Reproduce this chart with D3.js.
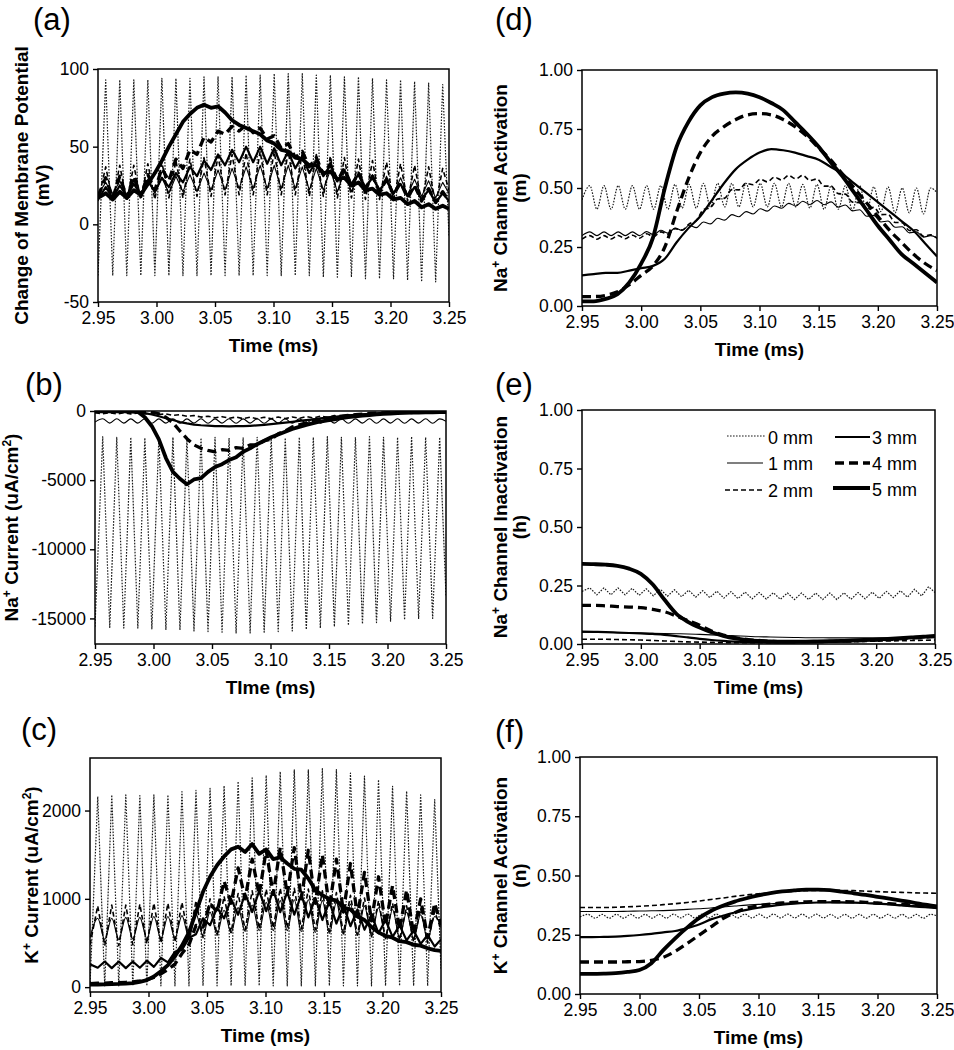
<!DOCTYPE html>
<html><head><meta charset="utf-8">
<script src="https://cdn.jsdelivr.net/npm/d3@7"></script>
<style>
body{margin:0;background:#fff}
svg{display:block}
text{font-family:"Liberation Sans",Arial,Helvetica,sans-serif;fill:#000}
</style>
</head><body>
<svg id="chart" width="954" height="1050"></svg>
<script>
// ---------- DATA ----------
const seriesNames = ["0 mm","1 mm","2 mm","3 mm","4 mm","5 mm"];
const xTicks = [2.95,3.00,3.05,3.10,3.15,3.20,3.25];
const yTicksA = [-50,0,50,100];
const yTicksB = [0,-5000,-10000,-15000];
const yTicksC = [0,1000,2000];
const yTicksGate = [0,0.25,0.5,0.75,1.0];

// time grid at half stimulus periods (ms)
const tOsc = [2.95,2.9566,2.9626,2.9686,2.9746,2.9806,2.9866,2.9926,2.9986,3.0046,
 3.0106,3.0166,3.0226,3.0286,3.0346,3.0406,3.0466,3.0526,3.0586,3.0646,
 3.0706,3.0766,3.0826,3.0886,3.0946,3.1006,3.1066,3.1126,3.1186,3.1246,
 3.1306,3.1366,3.1426,3.1486,3.1546,3.1606,3.1666,3.1726,3.1786,3.1846,
 3.1906,3.1966,3.2026,3.2086,3.2146,3.2206,3.2266,3.2326,3.2386,3.2446,3.25];
// coarse time grid (ms)
const tS = [2.95,2.96,2.97,2.98,2.99,3.00,3.01,3.02,3.03,3.04,
 3.05,3.06,3.07,3.08,3.09,3.10,3.11,3.12,3.13,3.14,
 3.15,3.16,3.17,3.18,3.19,3.20,3.21,3.22,3.23,3.24,3.25];

// (a) change of membrane potential (mV)
const a0 = [-33,93,-33,93,-33,93,-33,93,-33,94, -33,94,-33,94,-33,95,-33,95,-33,95,
 -33,96,-33,96,-33,97,-33,97,-33,97, -33,96,-34,96,-34,95,-34,95,-35,94,
 -35,93,-35,93,-36,92,-37,91,-37,90, -8];
const a1 = [19,27,19,28,19,28,20,29,20,30, 20,31,21,32,21,33,22,35,22,36,
 23,37,23,38,23,38,23,38,23,37, 22,36,22,35,21,34,21,33,20,32,
 20,31,19,30,19,29,18,28,17,27, 20];
const a2 = [15,37,15,38,15,38,16,39,16,40, 17,41,17,42,18,43,18,44,19,45,
 19,46,19,47,19,47,19,47,19,46, 18,45,18,44,17,43,17,42,16,41,
 16,40,15,39,15,38,14,37,13,36, 22];
const a3 = [16,24,17,25,18,26,19,28,21,30, 24,33,27,37,31,41,35,45,38,48,
 40,50,40,50,39,49,38,47,36,44, 33,41,31,38,28,35,26,32,24,30,
 22,28,20,26,18,24,16,22,14,20, 15];
const a4 = [18,30,17,31,17,31,18,32,22,36, 28,42,36,48,45,56,53,60,58,63,
 60,64,59,62,55,57,49,52,43,47, 37,43,32,39,28,36,25,33,23,31,
 21,29,19,27,17,25,15,23,14,21, 15];
const a5 = [17,20,16,21,17,22,19,26,33,41, 50,58,66,71,75,77,75,76,72,67,
 64,62,60,58,54,52,48,47,43,42, 38,38,33,34,29,30,25,27,22,23,
 19,20,16,17,13,15,11,13,10,12, 10];

// (b) Na+ current (uA/cm2)
const b0 = [-15600,-1850,-15650,-1900,-15700,-1900,-15700,-1950,-15750,-1900,
 -15800,-1900,-15850,-1950,-15900,-1950,-15950,-1900,-16000,-1950,
 -16050,-1950,-16050,-1900,-16000,-1900,-15950,-1950,-15900,-1900,
 -15800,-1900,-15700,-1850,-15600,-1900,-15500,-1900,-15400,-1850,
 -15300,-1900,-15200,-1900,-15100,-1850,-15000,-1900,-15000,-1900, -13400];
const b1 = [-800,-560,-880,-560,-880,-570,-880,-560,-890,-570, -880,-560,-890,-570,-880,-560,-890,-570,-880,-560,
 -890,-570,-880,-560,-890,-570,-880,-560,-890,-570, -880,-560,-890,-570,-880,-560,-890,-570,-880,-560,
 -890,-570,-880,-560,-890,-570,-880,-560,-890,-570, -750];
const b2 = [-120,-200,-130,-210,-130,-210,-140,-220,-160,-250, -210,-320,-270,-380,-330,-440,-380,-490,-410,-520,
 -440,-550,-450,-560,-450,-560,-440,-550,-430,-530, -400,-500,-370,-460,-330,-410,-280,-350,-230,-290,
 -180,-240,-150,-200,-120,-170,-100,-150,-90,-130, -100];
const b3 = [-50,-50,-60,-60,-70,-80,-100,-150,-250,-380, -520,-650,-800,-900,-980,-1030,-1060,-1090,-1100,-1110,
 -1100,-1090,-1070,-1040,-1000,-950,-900,-840,-780,-720, -660,-600,-540,-480,-420,-370,-320,-280,-240,-200,
 -170,-140,-120,-100,-85,-70,-60,-50,-45,-40, -40];
const b4 = [-20,-20,-20,-20,-25,-25,-30,-40,-80,-200, -450,-850,-1450,-2000,-2450,-2700,-2850,-2950,-2800,-2850,
 -2650,-2700,-2450,-2450,-2150,-2050,-1650,-1450,-1150,-1000, -850,-720,-600,-520,-440,-370,-310,-260,-220,-180,
 -150,-130,-110,-95,-80,-70,-60,-50,-45,-40, -40];
const b5 = [-20,-20,-20,-25,-25,-30,-60,-450,-1100,-2050, -3400,-4400,-4900,-5300,-4950,-4850,-4400,-4050,-3850,-3550,
 -3350,-2950,-2700,-2400,-2150,-1900,-1700,-1500,-1300,-1150, -1000,-880,-760,-680,-600,-520,-450,-390,-330,-290,
 -250,-210,-180,-160,-140,-120,-110,-100,-90,-80, -80];

// (c) K+ current (uA/cm2)
const c0 = [20,2158,15,2177,15,2177,15,2170,15,2177, 15,2177,15,2215,15,2230,15,2250,15,2280,
 15,2330,15,2370,15,2400,15,2440,15,2460, 15,2460,15,2475,15,2465,15,2425,15,2390,
 15,2350,15,2275,15,2220,15,2177,15,2125, 200];
const c1 = [560,780,540,780,540,790,545,790,550,800, 550,800,555,810,560,830,580,850,600,870,
 615,900,630,930,640,960,640,980,640,990, 630,990,620,980,610,960,600,940,590,920,
 580,900,570,880,560,850,550,820,540,800, 700];
const c2 = [480,920,470,930,470,930,480,940,490,950, 500,950,510,960,530,980,560,1000,590,1030,
 620,1060,650,1090,660,1110,670,1120,670,1120, 660,1110,650,1090,630,1070,610,1040,590,1010,
 570,980,550,950,530,920,510,890,500,860, 650];
const c3 = [260,220,290,215,290,215,290,220,300,230, 330,280,400,420,560,600,780,700,900,780,
 1000,820,1060,850,1090,860,1100,850,1080,820, 1050,790,1010,760,970,720,930,690,880,650,
 820,610,760,570,700,530,640,490,590,460, 540];
const c4 = [40,45,45,50,50,55,60,70,85,110, 150,200,260,380,480,700,680,950,850,1200,
 950,1350,1000,1450,1050,1550,1050,1580,1050,1580, 1000,1550,950,1500,900,1450,850,1400,800,1300,
 750,1250,700,1150,650,1100,600,1000,560,950, 700];
const c5 = [30,30,32,34,36,40,45,60,80,120, 180,250,350,470,620,850,1080,1250,1380,1480,
 1560,1590,1530,1620,1510,1560,1450,1470,1400,1340, 1330,1230,1100,1040,1000,980,900,880,800,760,
 680,620,580,560,520,510,480,470,440,420, 410];

// (d) Na+ channel activation m
const dm0 = [0.45,0.51,0.41,0.51,0.41,0.51,0.41,0.51,0.41,0.51, 0.41,0.51,0.41,0.515,0.415,0.515,0.415,0.52,0.42,0.52,
 0.42,0.52,0.42,0.52,0.42,0.52,0.42,0.52,0.42,0.52, 0.42,0.515,0.415,0.515,0.41,0.51,0.41,0.51,0.405,0.51,
 0.40,0.505,0.40,0.505,0.395,0.50,0.395,0.50,0.39,0.50, 0.48];
const dm1 = [0.298,0.314,0.298,0.314,0.298,0.314,0.298,0.314,0.298,0.315, 0.302,0.321,0.309,0.330,0.320,0.342,0.332,0.356,0.348,0.372,
 0.364,0.387,0.378,0.400,0.390,0.412,0.402,0.424,0.414,0.435, 0.424,0.444,0.430,0.447,0.429,0.441,0.419,0.428,0.403,0.408,
 0.380,0.384,0.356,0.360,0.334,0.336,0.310,0.314,0.292,0.298, 0.288];
const dm2 = [0.283,0.298,0.283,0.298,0.284,0.299,0.285,0.300,0.287,0.306, 0.294,0.314,0.304,0.328,0.322,0.348,0.362,0.408,0.417,0.453,
 0.457,0.493,0.492,0.520,0.514,0.537,0.526,0.546,0.534,0.553, 0.539,0.554,0.532,0.538,0.508,0.508,0.476,0.474,0.440,0.438,
 0.407,0.418,0.387,0.388,0.354,0.353,0.320,0.323,0.295,0.302, 0.287];
const dm3 = [0.13,0.135,0.14,0.14,0.15,0.16,0.17,0.20,0.27,0.33, 0.38,0.45,0.52,0.58,0.62,0.65,0.665,0.66,0.65,0.635,
 0.62,0.59,0.56,0.52,0.48,0.44,0.40,0.36,0.32,0.265, 0.21];
const dm4 = [0.04,0.04,0.045,0.06,0.09,0.13,0.17,0.25,0.40,0.54, 0.65,0.72,0.76,0.79,0.81,0.815,0.81,0.79,0.76,0.72,
 0.67,0.62,0.56,0.50,0.44,0.38,0.32,0.27,0.22,0.18, 0.15];
const dm5 = [0.02,0.02,0.03,0.05,0.10,0.18,0.29,0.50,0.675,0.78, 0.85,0.885,0.90,0.905,0.90,0.885,0.86,0.83,0.78,0.73,
 0.675,0.61,0.55,0.48,0.41,0.34,0.28,0.22,0.18,0.14, 0.10];

// (e) Na+ channel inactivation h
const e0 = [0.225,0.24,0.21,0.24,0.21,0.24,0.21,0.238,0.208,0.236, 0.206,0.234,0.204,0.232,0.202,0.23,0.2,0.228,0.198,0.226,
 0.196,0.224,0.194,0.222,0.193,0.22,0.192,0.219,0.191,0.218, 0.19,0.218,0.19,0.218,0.19,0.218,0.19,0.219,0.191,0.22,
 0.193,0.222,0.195,0.225,0.198,0.228,0.2,0.234,0.205,0.245, 0.22];
const e1 = [0.05,0.05,0.05,0.049,0.048,0.047,0.046,0.045,0.044,0.043, 0.041,0.039,0.037,0.035,0.033,0.031,0.03,0.029,0.028,0.027,
 0.027,0.026,0.026,0.026,0.026,0.027,0.027,0.028,0.029,0.03, 0.031];
const e2 = [0.02,0.02,0.02,0.019,0.018,0.017,0.015,0.013,0.011,0.009, 0.008,0.007,0.006,0.006,0.006,0.006,0.006,0.007,0.007,0.008,
 0.008,0.009,0.01,0.01,0.011,0.012,0.013,0.014,0.015,0.016, 0.017];
const e3 = [0.053,0.052,0.051,0.049,0.047,0.045,0.043,0.039,0.034,0.028, 0.022,0.017,0.013,0.01,0.008,0.007,0.006,0.006,0.006,0.007,
 0.008,0.009,0.011,0.013,0.015,0.018,0.02,0.023,0.026,0.029, 0.032];
const e4 = [0.165,0.165,0.163,0.16,0.158,0.155,0.148,0.138,0.12,0.10, 0.08,0.055,0.038,0.027,0.02,0.015,0.012,0.01,0.01,0.01,
 0.01,0.011,0.012,0.013,0.015,0.017,0.019,0.022,0.025,0.028, 0.032];
const e5 = [0.342,0.341,0.339,0.334,0.322,0.30,0.255,0.19,0.13,0.095, 0.07,0.05,0.035,0.024,0.017,0.013,0.011,0.01,0.01,0.01,
 0.011,0.012,0.013,0.015,0.017,0.019,0.022,0.025,0.028,0.031, 0.035];

// (f) K+ channel activation n
const f0 = [0.325,0.336,0.32,0.336,0.32,0.336,0.32,0.336,0.32,0.336, 0.32,0.336,0.32,0.337,0.321,0.337,0.321,0.337,0.321,0.337,
 0.321,0.337,0.321,0.337,0.321,0.337,0.321,0.337,0.321,0.337, 0.321,0.337,0.321,0.337,0.321,0.336,0.32,0.336,0.32,0.336,
 0.32,0.336,0.32,0.336,0.32,0.336,0.32,0.336,0.32,0.336, 0.33];
const f1 = [0.348,0.348,0.348,0.348,0.349,0.35,0.351,0.352,0.354,0.357, 0.36,0.363,0.367,0.371,0.375,0.378,0.381,0.383,0.385,0.386,
 0.386,0.386,0.385,0.384,0.382,0.38,0.378,0.376,0.373,0.37, 0.367];
const f2 = [0.365,0.365,0.365,0.366,0.368,0.37,0.373,0.377,0.381,0.386, 0.392,0.399,0.405,0.412,0.418,0.423,0.427,0.43,0.433,0.436,
 0.437,0.438,0.437,0.436,0.434,0.432,0.43,0.429,0.427,0.426, 0.425];
const f3 = [0.24,0.24,0.241,0.242,0.245,0.249,0.254,0.26,0.266,0.278, 0.293,0.315,0.33,0.344,0.355,0.364,0.371,0.377,0.381,0.384,
 0.386,0.387,0.387,0.386,0.384,0.381,0.378,0.374,0.37,0.366, 0.362];
const f4 = [0.135,0.135,0.135,0.135,0.136,0.137,0.142,0.155,0.18,0.213, 0.248,0.283,0.318,0.343,0.362,0.372,0.379,0.384,0.387,0.389,
 0.39,0.39,0.39,0.389,0.387,0.384,0.381,0.378,0.375,0.372, 0.369];
const f5 = [0.085,0.085,0.086,0.088,0.093,0.101,0.13,0.185,0.235,0.28, 0.32,0.35,0.372,0.39,0.404,0.416,0.426,0.433,0.437,0.44,
 0.44,0.438,0.432,0.425,0.418,0.41,0.402,0.394,0.386,0.377, 0.369];

// ---------- STYLE / LAYOUT ----------
const lineStyles = [
  {w:1.2, dash:"1.6,1.4", color:"#1a1a1a"},
  {w:1.1, dash:null, color:"#000"},
  {w:1.6, dash:"5,3", color:"#000"},
  {w:2.2, dash:null, color:"#000"},
  {w:3.3, dash:"9,5", color:"#000"},
  {w:3.8, dash:null, color:"#000"}
];
const fmtInt = d => String(d);
const fmt2 = d => d.toFixed(2);

const panels = [
  {label:"(a)", lx:33, ly:30, box:[98,449,69,302], yDomain:[-50,100], yTicks:yTicksA, yFmt:fmtInt,
   titles:[{segs:[{t:"Change of Membrane Potential"}], bx:28},{segs:[{t:"(mV)"}], bx:49}],
   xTitle:"Time (ms)", series:[[tOsc,a0],[tOsc,a1],[tOsc,a2],[tOsc,a3],[tOsc,a4],[tOsc,a5]], smooth:[]},
  {label:"(b)", lx:25, ly:395, box:[95,446,411,644], yDomain:[-16850,0], yTicks:yTicksB, yFmt:fmtInt,
   titles:[{segs:[{t:"Na"},{t:"+",sup:true},{t:" Current (uA/cm"},{t:"2",sup:true},{t:")"}], bx:18}],
   xTitle:"TIme (ms)", series:[[tOsc,b0],[tOsc,b1],[tOsc,b2],[tOsc,b3],[tOsc,b4],[tOsc,b5]], smooth:[1]},
  {label:"(c)", lx:21, ly:740, box:[90,441,758,992], yDomain:[-55,2595], yTicks:yTicksC, yFmt:fmtInt,
   titles:[{segs:[{t:"K"},{t:"+",sup:true},{t:" Current (uA/cm"},{t:"2",sup:true},{t:")"}], bx:38}],
   xTitle:"Time (ms)", series:[[tOsc,c0],[tOsc,c1],[tOsc,c2],[tOsc,c3],[tOsc,c4],[tOsc,c5]], smooth:[1]},
  {label:"(d)", lx:495, ly:30, box:[582,937,70,306], yDomain:[0,1], yTicks:yTicksGate, yFmt:fmt2,
   titles:[{segs:[{t:"Na"},{t:"+",sup:true},{t:" Channel Activation"}], bx:507},{segs:[{t:"(m)"}], bx:526}],
   xTitle:"Time (ms)", series:[[tOsc,dm0],[tOsc,dm1],[tOsc,dm2],[tS,dm3],[tS,dm4],[tS,dm5]], smooth:[0,1,2,3,4,5]},
  {label:"(e)", lx:495, ly:395, box:[582,935,410,644], yDomain:[0,1], yTicks:yTicksGate, yFmt:fmt2,
   titles:[{segs:[{t:"Na"},{t:"+",sup:true},{t:" Channel Inactivation"}], bx:507},{segs:[{t:"(h)"}], bx:526}],
   xTitle:"Time (ms)", series:[[tOsc,e0],[tS,e1],[tS,e2],[tS,e3],[tS,e4],[tS,e5]], smooth:[1,2,3,4,5], legend:true},
  {label:"(f)", lx:495, ly:742, box:[580,937,757,994], yDomain:[0,1], yTicks:yTicksGate, yFmt:fmt2,
   titles:[{segs:[{t:"K"},{t:"+",sup:true},{t:" Channel Activation"}], bx:507},{segs:[{t:"(n)"}], bx:526}],
   xTitle:"Time (ms)", series:[[tOsc,f0],[tS,f1],[tS,f2],[tS,f3],[tS,f4],[tS,f5]], smooth:[0,1,2,3,4,5]}
];

// ---------- DRAW ----------
const svg = d3.select("#chart");
svg.append("rect").attr("width",954).attr("height",1050).attr("fill","#fff");

function writeSegs(textSel, segs){
  let shifted = false;
  segs.forEach(s => {
    const ts = textSel.append("tspan").text(s.t);
    if (s.sup && !shifted){ ts.attr("dy",-7).attr("font-size",12); shifted = true; }
    else if (s.sup && shifted){ ts.attr("font-size",12); }
    else if (!s.sup && shifted){ ts.attr("dy",7); shifted = false; }
  });
}

panels.forEach((p, pi) => {
  const [x0,x1,y0,y1] = p.box;
  const x = d3.scaleLinear().domain([2.95,3.25]).range([x0,x1]);
  const y = d3.scaleLinear().domain(p.yDomain).range([y1,y0]);
  const g = svg.append("g");

  const clipId = "clip"+pi;
  svg.append("clipPath").attr("id",clipId).append("rect")
    .attr("x",x0).attr("y",y0).attr("width",x1-x0).attr("height",y1-y0);

  const lg = g.append("g").attr("clip-path",`url(#${clipId})`);
  p.series.forEach(([ts, vs], si) => {
    const st = lineStyles[si];
    const pts = ts.map((t,i)=>[t, vs[i]]);
    const line = d3.line().x(d=>x(d[0])).y(d=>y(d[1]))
      .curve(p.smooth.includes(si) ? d3.curveMonotoneX : d3.curveLinear);
    lg.append("path").attr("d", line(pts)).attr("fill","none")
      .attr("stroke", st.color).attr("stroke-width", st.w)
      .attr("stroke-dasharray", st.dash).attr("stroke-linejoin","round");
  });

  // axes
  const xAxis = d3.axisBottom(x).tickValues(xTicks).tickFormat(fmt2).tickSize(5).tickSizeOuter(0).tickPadding(5);
  const yAxis = d3.axisLeft(y).tickValues(p.yTicks).tickFormat(p.yFmt).tickSize(5).tickSizeOuter(0).tickPadding(4);
  const gx = g.append("g").attr("transform",`translate(0,${y1})`).call(xAxis);
  const gy = g.append("g").attr("transform",`translate(${x0},0)`).call(yAxis);
  [gx,gy].forEach(a => {
    a.select(".domain").remove();
    a.selectAll(".tick line").attr("stroke","#000").attr("stroke-width",1.4);
    a.selectAll(".tick text").attr("font-size",17.5).attr("font-family","Liberation Sans, Arial, sans-serif").attr("fill","#000");
  });

  // frame
  g.append("rect").attr("x",x0).attr("y",y0).attr("width",x1-x0).attr("height",y1-y0)
    .attr("fill","none").attr("stroke","#000").attr("stroke-width",1.5);

  // panel label
  svg.append("text").attr("x",p.lx).attr("y",p.ly).attr("font-size",31).text(p.label);

  // x title
  svg.append("text").attr("x",(x0+x1)/2).attr("y",y1+50).attr("text-anchor","middle")
    .attr("font-size",19).attr("font-weight","bold").text(p.xTitle);

  // y titles
  const cy = (y0+y1)/2;
  p.titles.forEach(tt => {
    const tx = svg.append("text").attr("transform",`translate(${tt.bx},${cy}) rotate(-90)`)
      .attr("text-anchor","middle").attr("font-size",19).attr("font-weight","bold");
    writeSegs(tx, tt.segs);
  });

  if (p.legend){
    const items = [
      {i:0, lx0:727, lx1:765, ly:436, tx:768, ty:444},
      {i:1, lx0:727, lx1:763, ly:463, tx:768, ty:470},
      {i:2, lx0:725, lx1:765, ly:490, tx:768, ty:497},
      {i:3, lx0:835, lx1:870, ly:437, tx:872, ty:444},
      {i:4, lx0:835, lx1:870, ly:463, tx:872, ty:470},
      {i:5, lx0:833, lx1:870, ly:488, tx:872, ty:496}
    ];
    const leg = svg.append("g");
    items.forEach(it => {
      const st = lineStyles[it.i];
      leg.append("line").attr("x1",it.lx0).attr("x2",it.lx1).attr("y1",it.ly).attr("y2",it.ly)
        .attr("stroke",st.color).attr("stroke-width",st.w).attr("stroke-dasharray",st.dash);
      leg.append("text").attr("x",it.tx).attr("y",it.ty).attr("font-size",18).text(seriesNames[it.i]);
    });
  }
});
</script>
</body></html>
